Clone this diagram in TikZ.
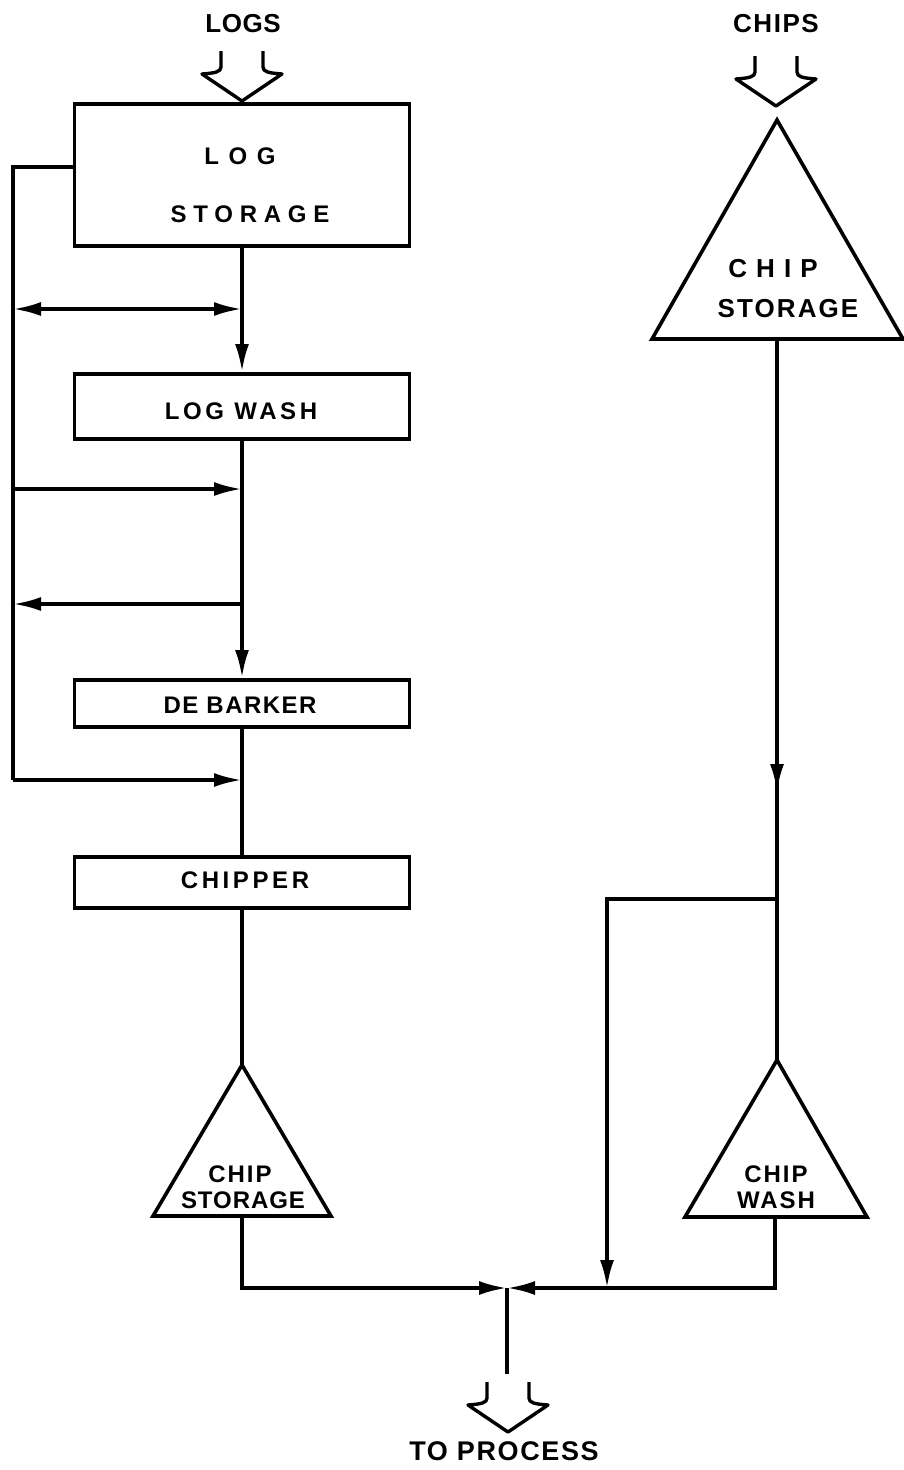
\documentclass[tikz,border=0pt]{standalone}
\usepackage{fontspec}
\setmainfont{Liberation Sans}
\usetikzlibrary{arrows.meta}
\begin{document}
\begin{tikzpicture}[x=1pt,y=-1pt,
  line width=3.6pt, line cap=butt, line join=miter,
  tip/.style={-{Latex[length=28pt,width=14pt]}},
  lbl/.style={inner sep=0pt, anchor=base},
  fs/.style={font=\bfseries\fontsize{#1}{#1}\selectfont},
  box/.style={draw, rectangle, inner sep=0pt, anchor=north},
  hollow/.pic={\draw[line width=3.4pt, line join=round] (-21,-50) -- (-21,-34) .. controls (-21,-29) and (-27,-28) .. (-40,-27) -- (0,0) -- (40,-27) .. controls (27,-28) and (21,-29) .. (21,-34) -- (21,-50);}
]
\useasboundingbox (0,0) rectangle (903,1470);

% boxes
\node[box, minimum width=335pt, minimum height=142pt] (logstor) at (242,102) {};
\node[box, minimum width=335pt, minimum height=65pt] (logwash) at (242,372) {};
\node[box, minimum width=335pt, minimum height=47pt] (debarker) at (242,678) {};
\node[box, minimum width=335pt, minimum height=51pt] (chipper) at (242,855) {};

% triangles
\draw (242,1065) coordinate (csLtop) -- (331,1216) -- (153,1216) -- cycle;
\coordinate (csLbot) at (242,1216);
\draw (777,120) coordinate (csRtop) -- (903,339) -- (652,339) -- cycle;
\coordinate (csRbot) at (777,339);
\draw (777,1060) coordinate (cwtop) -- (867,1217) -- (685,1217) -- cycle;
\coordinate (cwbot) at (775,1217);

% texts
\node[lbl, fs=26] (logs) at (243,32) {\addfontfeature{LetterSpace=2}LOGS};
\node[lbl, fs=26] (chips) at (776,32) {\addfontfeature{LetterSpace=6}CHIPS};
\node[lbl, fs=24] (t1) at (240,164) {\addfontfeature{LetterSpace=40}LOG};
\node[lbl, fs=24] (t2) at (250,222) {\addfontfeature{LetterSpace=28}STORAGE};
\node[lbl, fs=24] (t3) at (241,419) {\addfontfeature{LetterSpace=15}LOG WASH};
\node[lbl, fs=24] (t4) at (240,713) {\addfontfeature{LetterSpace=6}DE BARKER};
\node[lbl, fs=24] (t5) at (245,888) {\addfontfeature{LetterSpace=15}CHIPPER};
\node[lbl, fs=26] (t6) at (773,277) {\addfontfeature{LetterSpace=35}CHIP};
\node[lbl, fs=26] (t7) at (788,317) {\addfontfeature{LetterSpace=8}STORAGE};
\node[lbl, fs=24] (t8) at (240,1182) {\addfontfeature{LetterSpace=8}CHIP};
\node[lbl, fs=24] (t9) at (243,1208) {\addfontfeature{LetterSpace=4}STORAGE};
\node[lbl, fs=24] (t10) at (776,1182) {\addfontfeature{LetterSpace=8}CHIP};
\node[lbl, fs=24] (t11) at (776,1208) {\addfontfeature{LetterSpace=8}WASH};
\node[lbl, fs=27] (proc) at (504,1460) {\addfontfeature{LetterSpace=6}TO PROCESS};

% hollow arrows
\pic at (242,101) {hollow};
\pic at (776,106) {hollow};
\pic at (508,1432) {hollow};

% left bypass
\coordinate (L1) at (13,167);
\coordinate (L2) at (13,780);
\draw (logstor.west |- L1) -- (L1) -- (L2);
\draw[tip] (L2) -- (logstor.south |- L2);
\draw[{Latex[length=28pt,width=14pt]}-{Latex[length=28pt,width=14pt]}] (13,309) -- (logstor.south |- 0,309);
\draw[tip] (13,489) -- (logstor.south |- 0,489);
\draw[tip] (logstor.south |- 0,604) -- (13,604);

% main chain
\draw[tip] (logstor.south) -- (logwash.north);
\draw[tip] (logwash.south) -- (debarker.north);
\draw (debarker.south) -- (chipper.north);
\draw (chipper.south) -- (csLtop);

% junction
\coordinate (jn) at (507,1288);
\draw[tip] (csLbot) -- (242,1288) -- (jn);
\draw[tip] (cwbot) -- (775,1288) -- (jn);
\draw (jn) -- (507,1374);

% right chain
\coordinate (mR) at (777,792);
\draw (csRbot) -- (cwtop);
\draw[tip] (csRbot) -- (mR);
\draw[tip] (777,899) -- (607,899) -- (607,1288);
\end{tikzpicture}
\end{document}
